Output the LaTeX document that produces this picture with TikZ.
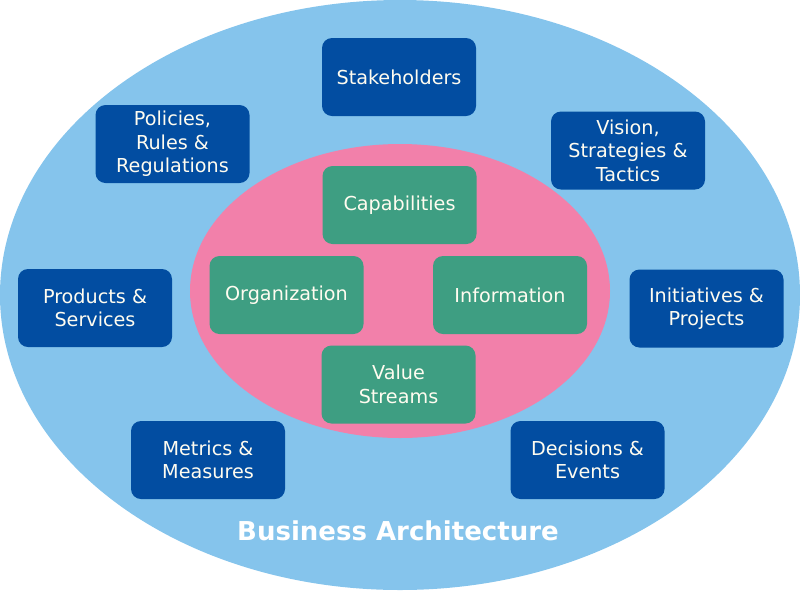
\documentclass[tikz,border=0pt]{standalone}
\usepackage{fontspec}
\setmainfont{DejaVu Sans}
\definecolor{outerblue}{RGB}{133,196,236}
\definecolor{innerpink}{RGB}{242,128,170}
\definecolor{boxgreen}{RGB}{62,158,130}
\definecolor{boxblue}{RGB}{2,77,161}
\definecolor{txtwhite}{RGB}{255,252,240}
\tikzset{
  basebox/.style={rectangle, rounded corners=10pt, inner sep=0pt, align=center,
    text=txtwhite, font=\fontsize{19.2}{23.5}\selectfont,
    minimum width=154pt, minimum height=78pt},
  bluebox/.style={basebox, fill=boxblue},
  greenbox/.style={basebox, fill=boxgreen}
}
\begin{document}
\begin{tikzpicture}[x=1pt,y=-1pt]
\useasboundingbox (0,0) rectangle (800,590);
\fill[outerblue] (400,295) ellipse [x radius=400, y radius=295];
\fill[innerpink] (400,291) ellipse [x radius=210, y radius=147];
% outer boxes
\node[bluebox] (stake) at (399,77) {Stakeholders};
\node[bluebox] (policy) at (172.5,144) {Policies,\\Rules \&\\Regulations};
\node[bluebox] (vision) at (628,150.5) {Vision,\\Strategies \&\\Tactics};
\node[bluebox] (prod) at (95,308) {Products \&\\Services};
\node[bluebox] (init) at (706.5,308.5) {Initiatives \&\\Projects};
\node[bluebox] (metric) at (208,460) {Metrics \&\\Measures};
\node[bluebox] (decis) at (587.5,460) {Decisions \&\\Events};
% inner boxes
\node[greenbox] (cap) at (399.5,205) {Capabilities};
\node[greenbox] (org) at (286.5,295) {Organization};
\node[greenbox] (info) at (510,295) {Information};
\node[greenbox] (value) at (398.5,384.5) {Value\\Streams};
\node[font=\bfseries\fontsize{26}{30}\selectfont, text=white] (title) at (398,531) {Business Architecture};
\end{tikzpicture}
\end{document}
